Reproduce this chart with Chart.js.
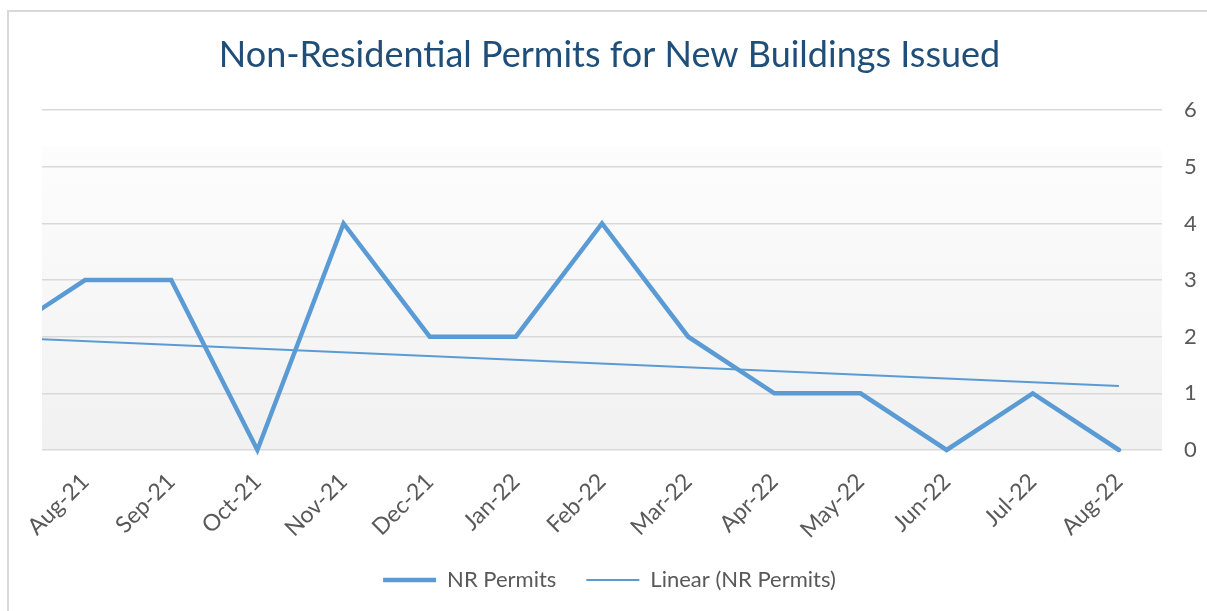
<!DOCTYPE html>
<html>
<head>
<meta charset="utf-8">
<script src="https://cdn.jsdelivr.net/npm/chart.js@4.4.1/dist/chart.umd.min.js"></script>
<style>
  html, body { margin: 0; padding: 0; background: #ffffff; }
  #wrap { position: relative; width: 1207px; height: 611px; overflow: hidden; }
  #frame { position: absolute; left: 7px; top: 10px; width: 1300px; height: 700px; border: 2px solid #d9d9d9; box-sizing: border-box; pointer-events: none; }
  canvas { position: absolute; left: 0; top: 0; }
</style>
</head>
<body>
<div id="wrap">
  <div id="frame"></div>
  <canvas id="c" width="1207" height="611"></canvas>
</div>
<script>
// Categories (first month lies just outside the visible axis, as in the reference)
const months = ['Jul-21','Aug-21','Sep-21','Oct-21','Nov-21','Dec-21','Jan-22','Feb-22','Mar-22','Apr-22','May-22','Jun-22','Jul-22','Aug-22'];
// NR Permits per month
const nrPermits = [2, 3, 3, 0, 4, 2, 2, 4, 2, 1, 1, 0, 1, 0];
// Linear trendline endpoints
const trendLine = [1.99, null, null, null, null, null, null, null, null, null, null, null, null, 1.13];
const yTicks = [0, 1, 2, 3, 4, 5, 6];

const FONT = 'Lato, "Open Sans", sans-serif';
const TEXT = '#595959';
const BLUE = '#5b9bd5';

const bgPlugin = {
  id: 'plotBg',
  beforeDraw(chart) {
    const {ctx, chartArea: a} = chart;
    const top = a.top + 36;
    const g = ctx.createLinearGradient(0, top, 0, a.bottom);
    g.addColorStop(0, '#fdfdfd');
    g.addColorStop(1, '#f1f1f1');
    ctx.save();
    ctx.fillStyle = g;
    ctx.fillRect(a.left, top, a.right - a.left, a.bottom - top);
    ctx.restore();
  }
};

new Chart(document.getElementById('c'), {
  type: 'line',
  data: {
    labels: months,
    datasets: [
      {
        label: 'NR Permits',
        data: nrPermits,
        borderColor: BLUE,
        backgroundColor: BLUE,
        borderWidth: 4.5,
        borderCapStyle: 'round',
        borderJoinStyle: 'miter',
        pointRadius: 0,
        pointHoverRadius: 0,
        tension: 0,
        clip: {left: 0, top: 6, right: 6, bottom: 6}
      },
      {
        label: 'Linear (NR Permits)',
        data: trendLine,
        spanGaps: true,
        borderColor: BLUE,
        backgroundColor: BLUE,
        borderWidth: 2,
        pointRadius: 0,
        pointHoverRadius: 0,
        tension: 0,
        clip: {left: 0, top: 6, right: 6, bottom: 6}
      }
    ]
  },
  options: {
    responsive: false,
    animation: false,
    events: [],
    layout: { padding: { left: 12, right: 0, top: 0, bottom: 10 } },
    plugins: {
      title: {
        display: true,
        text: 'Non-Residential Permits for New Buildings Issued',
        color: '#1f4e79',
        font: { family: FONT, size: 36, weight: 'normal' },
        padding: { top: 34, bottom: 33 }
      },
      legend: {
        display: true,
        position: 'bottom',
        labels: {
          color: TEXT,
          font: { family: FONT, size: 22 },
          usePointStyle: true,
          pointStyle: 'line',
          pointStyleWidth: 53,
          padding: 30
        }
      },
      tooltip: { enabled: false }
    },
    scales: {
      x: {
        min: 'Aug-21',
        offset: true,
        grid: { display: false, drawTicks: false },
        border: { display: false },
        ticks: {
          color: TEXT,
          font: { family: FONT, size: 23 },
          minRotation: 45,
          maxRotation: 45,
          autoSkip: false,
          padding: 18
        },
        afterFit(s) { s.height = 89; }
      },
      y: {
        position: 'right',
        min: 0,
        max: 6,
        afterBuildTicks(s) { s.ticks = yTicks.map(v => ({ value: v })); },
        grid: { color: '#d9d9d9', lineWidth: 1.5, drawTicks: false },
        border: { display: false },
        ticks: {
          color: TEXT,
          font: { family: FONT, size: 22 },
          padding: 22
        },
        afterFit(s) { s.width = 45; }
      },
      spacer: {
        type: 'linear',
        position: 'left',
        display: true,
        grid: { display: false, drawTicks: false },
        border: { display: false },
        ticks: { display: false },
        afterFit(s) { s.width = 30; }
      }
    }
  },
  plugins: [bgPlugin]
});
</script>
</body>
</html>
